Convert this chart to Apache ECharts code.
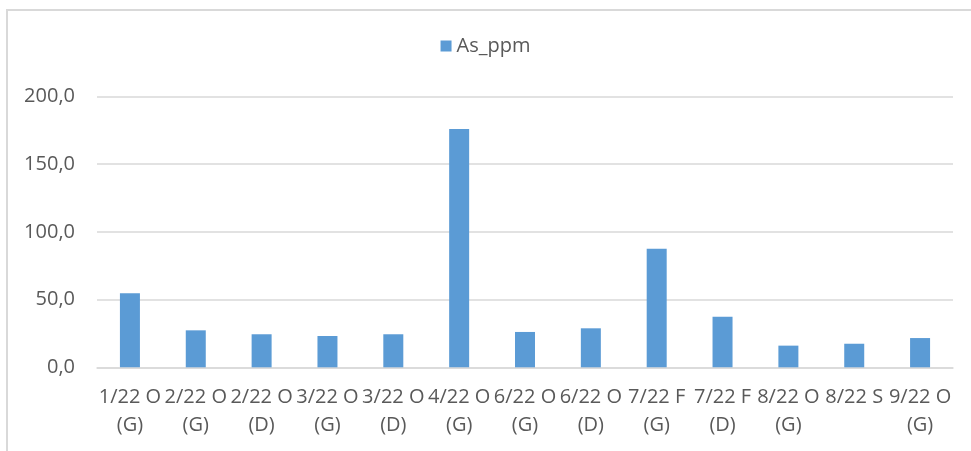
<!DOCTYPE html>
<html>
<head>
<meta charset="utf-8">
<script src="https://cdn.jsdelivr.net/npm/echarts@6/dist/echarts.min.js"></script>
<style>
  html, body { margin: 0; padding: 0; background: #fff; }
  #chart { width: 971px; height: 451px; }
</style>
</head>
<body>
<div id="chart"></div>
<script>
// Sample labels: first line (period + site letter) and second line (sample type)
const periodLabels = ['1/22 O', '2/22 O', '2/22 O', '3/22 O', '3/22 O', '4/22 O', '6/22 O',
                      '6/22 O', '7/22 F', '7/22 F', '8/22 O', '8/22 S', '9/22 O'];
const typeLabels = ['(G)', '(G)', '(D)', '(G)', '(D)', '(G)', '(G)', '(D)', '(G)', '(D)', '(G)', '', '(G)'];
// Arsenic concentration per sample
const asPpm = [54.7, 27.3, 24.4, 23.1, 24.4, 176.0, 26.1, 28.8, 87.6, 37.4, 16.0, 17.4, 21.6];
const yTicks = [0, 50, 100, 150, 200];

const categories = periodLabels.map((p, i) => p + '\n' + typeLabels[i]);

const chart = echarts.init(document.getElementById('chart'));
const textColor = '#595959';
const font = '"Open Sans", "Noto Sans", sans-serif';

chart.setOption({
  animation: false,
  textStyle: { fontFamily: font },
  graphic: [{
    type: 'rect',
    shape: { x: 7, y: 10, width: 980, height: 460 },
    style: { fill: 'none', stroke: '#d9d9d9', lineWidth: 2 },
    silent: true
  }],
  legend: {
    top: 31,
    left: 'center',
    itemWidth: 11,
    itemHeight: 11,
    itemGap: 6,
    icon: 'rect',
    textStyle: { color: textColor, fontSize: 20, fontFamily: font }
  },
  grid: { left: 97, right: 18, top: 96.5, bottom: 83.7, containLabel: false },
  xAxis: {
    type: 'category',
    data: categories,
    axisLine: { lineStyle: { color: '#d9d9d9', width: 1.5 } },
    axisTick: { show: false },
    axisLabel: {
      interval: 0,
      color: textColor,
      fontSize: 20,
      lineHeight: 28,
      margin: 16,
      fontFamily: font
    }
  },
  yAxis: {
    type: 'value',
    min: yTicks[0],
    max: yTicks[yTicks.length - 1],
    interval: yTicks[1] - yTicks[0],
    axisLine: { show: false },
    axisTick: { show: false },
    splitLine: { lineStyle: { color: '#d9d9d9', width: 1.5 } },
    axisLabel: {
      color: textColor,
      fontSize: 20,
      margin: 22,
      fontFamily: font,
      formatter: v => v.toFixed(1).replace('.', ',')
    }
  },
  series: [{
    name: 'As_ppm',
    type: 'bar',
    data: asPpm,
    barWidth: 20,
    itemStyle: { color: '#5b9bd5' }
  }]
});
</script>
</body>
</html>
